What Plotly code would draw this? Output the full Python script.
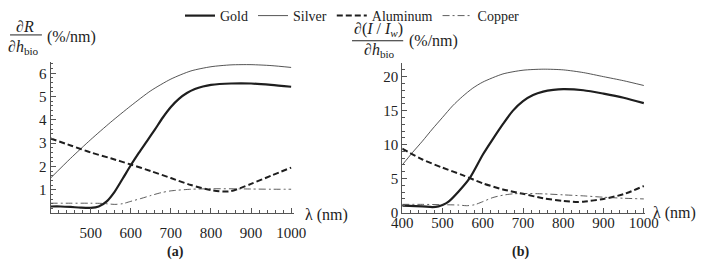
import plotly.graph_objects as go

# ---- data ----
# panel (a): dR/dh_bio (%/nm)
a_gold_x = [400, 425, 450, 475, 500, 520, 540, 560, 580, 600, 620, 640, 660, 680, 700, 720, 740, 760, 780, 800, 850, 900, 950, 1000]
a_gold_y = [0.28, 0.28, 0.26, 0.23, 0.22, 0.28, 0.50, 0.92, 1.48, 2.05, 2.58, 3.08, 3.58, 4.10, 4.55, 4.90, 5.15, 5.32, 5.43, 5.50, 5.56, 5.56, 5.50, 5.42]
a_silver_x = [400, 450, 500, 550, 600, 650, 700, 750, 800, 850, 900, 950, 1000]
a_silver_y = [1.50, 2.35, 3.15, 3.90, 4.60, 5.25, 5.75, 6.10, 6.28, 6.36, 6.37, 6.33, 6.25]
a_al_x = [400, 450, 500, 550, 600, 650, 700, 750, 800, 830, 850, 875, 900, 950, 1000]
a_al_y = [3.20, 2.90, 2.60, 2.35, 2.08, 1.80, 1.50, 1.20, 0.98, 0.92, 0.94, 1.08, 1.25, 1.60, 1.95]
a_cu_x = [400, 450, 500, 530, 560, 580, 600, 625, 650, 675, 700, 750, 800, 850, 900, 950, 1000]
a_cu_y = [0.42, 0.42, 0.42, 0.41, 0.37, 0.40, 0.50, 0.62, 0.75, 0.87, 0.95, 1.02, 1.04, 1.04, 1.03, 1.02, 1.02]

# panel (b): d(I/Iw)/dh_bio (%/nm)
b_gold_x = [400, 450, 475, 490, 500, 515, 540, 568, 600, 625, 650, 675, 700, 725, 750, 775, 800, 850, 900, 950, 1000]
b_gold_y = [1.0, 0.9, 0.8, 0.9, 1.1, 1.6, 3.1, 5.1, 8.5, 10.8, 13.0, 15.0, 16.4, 17.3, 17.8, 18.05, 18.15, 18.0, 17.5, 16.9, 16.1]
b_silver_x = [400, 425, 450, 475, 500, 525, 550, 575, 600, 650, 700, 750, 800, 850, 900, 950, 1000]
b_silver_y = [7.0, 8.8, 10.5, 12.3, 14.0, 15.7, 17.1, 18.3, 19.2, 20.4, 20.95, 21.1, 21.0, 20.6, 20.0, 19.4, 18.7]
b_al_x = [400, 450, 500, 550, 600, 650, 700, 750, 800, 830, 850, 900, 950, 1000]
b_al_y = [9.4, 7.8, 6.6, 5.5, 4.3, 3.4, 2.75, 2.1, 1.7, 1.55, 1.6, 2.0, 2.7, 3.9]
b_cu_x = [400, 450, 500, 540, 560, 580, 600, 625, 650, 675, 700, 750, 800, 850, 900, 950, 1000]
b_cu_y = [1.2, 1.2, 1.15, 1.1, 1.0, 1.15, 1.6, 2.2, 2.55, 2.75, 2.8, 2.75, 2.6, 2.45, 2.25, 2.1, 2.0]

names = ["Gold", "Silver", "Aluminum", "Copper"]
a_x_ticks = [500, 600, 700, 800, 900, 1000]
a_y_ticks = [1, 2, 3, 4, 5, 6]
b_x_ticks = [400, 500, 600, 700, 800, 900, 1000]
b_y_ticks = [0, 5, 10, 15, 20]

W, H = 707, 270
FONT = "Liberation Serif, Times New Roman, Times, serif"

styles = {
    "Gold": dict(color="#1e1e1e", width=2.2, dash="solid"),
    "Silver": dict(color="#2a2a2a", width=0.8, dash="solid"),
    "Aluminum": dict(color="#1e1e1e", width=2.0, dash="6px,3px"),
    "Copper": dict(color="#333333", width=0.8, dash="7px,3px,2px,3px"),
}

fig = go.Figure()
a_data = [(a_gold_x, a_gold_y), (a_silver_x, a_silver_y), (a_al_x, a_al_y), (a_cu_x, a_cu_y)]
b_data = [(b_gold_x, b_gold_y), (b_silver_x, b_silver_y), (b_al_x, b_al_y), (b_cu_x, b_cu_y)]
for n, (x, y) in zip(names, a_data):
    fig.add_trace(go.Scatter(x=x, y=y, mode="lines", name=n, line=dict(shape="spline", smoothing=0.7, **styles[n]),
                             xaxis="x", yaxis="y", showlegend=True))
for n, (x, y) in zip(names, b_data):
    fig.add_trace(go.Scatter(x=x, y=y, mode="lines", name=n, line=dict(shape="spline", smoothing=0.7, **styles[n]),
                             xaxis="x2", yaxis="y2", showlegend=False))

def px(x):
    return x / W

def py(y):
    return 1 - y / H

axcommon = dict(showline=True, linecolor="#555", linewidth=1, ticks="inside", tickcolor="#555", tickwidth=1,
                showgrid=False, zeroline=False, tickfont=dict(family=FONT, size=15, color="#222"), fixedrange=True)

fig.update_layout(
    width=W, height=H, margin=dict(l=0, r=0, t=0, b=0),
    paper_bgcolor="white", plot_bgcolor="white",
    font=dict(family=FONT, color="#222"),
    xaxis=dict(domain=[px(41), px(293.3)], range=[400, 1008], anchor="y", tickmode="array", tickvals=a_x_ticks,
               ticklen=5, ticklabelstandoff=6,
               minor=dict(tick0=400, dtick=20, ticklen=2.5, ticks="inside", tickcolor="#555"), **axcommon),
    yaxis=dict(domain=[py(219.5), py(63.5)], range=[0, 6.5], anchor="x", tickmode="array", tickvals=a_y_ticks,
               ticklen=5, minor=dict(tick0=0, dtick=0.2, ticklen=2.5, ticks="inside", tickcolor="#555"), **axcommon),
    xaxis2=dict(domain=[px(405), px(656.7)], range=[400, 1004], anchor="y2", tickmode="array", tickvals=b_x_ticks,
                ticklen=5, ticklabelstandoff=-4,
                minor=dict(tick0=400, dtick=20, ticklen=2.5, ticks="inside", tickcolor="#555"), **axcommon),
    yaxis2=dict(domain=[py(219), py(65)], range=[0, 22], anchor="x2", tickmode="array", tickvals=b_y_ticks,
                ticklen=5, minor=dict(tick0=0, dtick=1, ticklen=2.5, ticks="inside", tickcolor="#555"), **axcommon),
    legend=dict(orientation="h", x=0.5, xanchor="center", y=1.0, yanchor="top", font=dict(family=FONT, size=14, color="#222"),
                bgcolor="rgba(0,0,0,0)", itemwidth=30, tracegroupgap=0),
)

ann = []
def text(x, y, t, size=16, xanchor="center", yanchor="middle", **kw):
    ann.append(dict(x=px(x), y=py(y), xref="paper", yref="paper", text=t, showarrow=False,
                    xanchor=xanchor, yanchor=yanchor, font=dict(family=FONT, size=size, color="#222"), **kw))

# axis titles (a)
text(14, 27, "∂<i>R</i>")
text(13, 49, "∂<i>h</i><sub>bio</sub>")
text(35, 38, "(%/nm)", xanchor="left")
# axis titles (b)
text(380, 30, "∂(<i>I</i> / <i>I</i><sub><i>w</i></sub>)")
text(381, 52, "∂<i>h</i><sub>bio</sub>")
text(410, 42, "(%/nm)", xanchor="left")
# x labels
text(302, 222, "λ (nm)", xanchor="left")
text(662, 219, "λ (nm)", xanchor="left")
# panel labels
text(170, 260, "<b>(a)</b>", size=14)
text(527, 260, "<b>(b)</b>", size=14)
fig.update_layout(annotations=ann)

shapes = [
    dict(type="line", xref="paper", yref="paper", x0=px(-1), x1=px(32), y0=py(36), y1=py(36), line=dict(color="#222", width=1)),
    dict(type="line", xref="paper", yref="paper", x0=px(353), x1=px(406), y0=py(42), y1=py(42), line=dict(color="#222", width=1)),
]
fig.update_layout(shapes=shapes)

fig.write_html("out.html")
